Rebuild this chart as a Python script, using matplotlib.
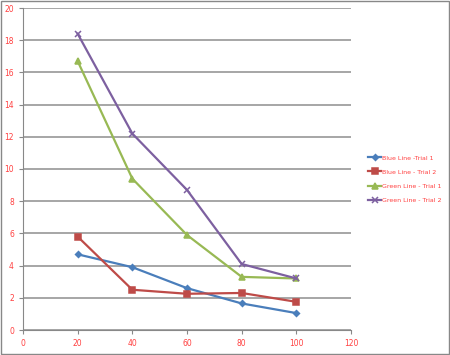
import matplotlib.pyplot as plt
from matplotlib.patches import Rectangle

x = [20, 40, 60, 80, 100]
blue_t1 = [4.7, 3.9, 2.6, 1.65, 1.05]
blue_t2 = [5.8, 2.5, 2.25, 2.3, 1.75]
green_t1 = [16.7, 9.4, 5.9, 3.3, 3.2]
green_t2 = [18.4, 12.2, 8.7, 4.1, 3.2]

labels = ["Blue Line -Trial 1", "Blue Line - Trial 2",
          "Green Line - Trial 1", "Green Line - Trial 2"]
colors = ["#4A7EBB", "#BE4B48", "#98B954", "#7D60A0"]
markers = ["D", "s", "^", "x"]
msizes = [3, 4.5, 4.5, 4.5]

fig = plt.figure(figsize=(4.5, 3.55), dpi=100)
ax = fig.add_axes([23 / 450, 1 - 330 / 355, 328 / 450, 322 / 355])

for ys, lab, c, m, ms in zip([blue_t1, blue_t2, green_t1, green_t2],
                             labels, colors, markers, msizes):
    ax.plot(x, ys, color=c, lw=1.6, marker=m, ms=ms, mew=1.1, label=lab)

ax.set_xlim(0, 120)
ax.set_ylim(0, 20)
ax.set_xticks(range(0, 121, 20))
ax.set_yticks(range(0, 21, 2))
ax.yaxis.grid(True, color="#A6A6A6", lw=1.4)
ax.set_axisbelow(True)
for s in ["top", "right"]:
    ax.spines[s].set_visible(False)
for s in ["left", "bottom"]:
    ax.spines[s].set_color("#888888")
ax.tick_params(colors="#888888", labelcolor="#FF4040", labelsize=5.5,
               length=3, width=0.8)

leg = fig.legend(loc="upper left", bbox_to_anchor=(365 / 450, 1 - 152 / 355),
                 frameon=False, fontsize=4.5, handlelength=2.1,
                 labelspacing=1.4, handletextpad=0.2, borderpad=0)
for t in leg.get_texts():
    t.set_color("#FF4040")

fig.patches.append(Rectangle((0.002, 0.003), 0.995, 0.994, transform=fig.transFigure,
                             fill=False, ec="#888888", lw=1))
fig.savefig("out.png", dpi=100)
